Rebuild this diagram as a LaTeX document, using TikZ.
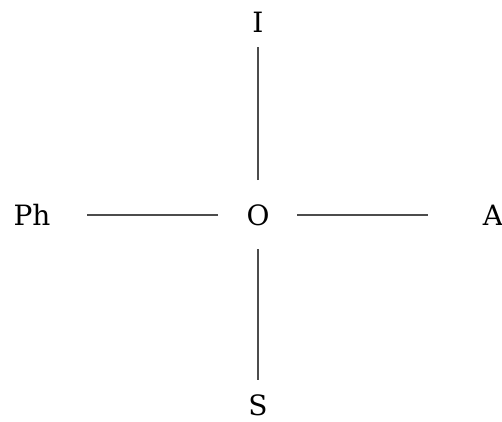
\documentclass[tikz,border=0pt]{standalone}
\usepackage{fontspec}
\setmainfont{DejaVu Serif}
\usetikzlibrary{positioning}

\begin{document}
\begin{tikzpicture}[
  x=1pt, y=1pt, on grid,
  label/.style = {font=\fontsize{28}{32}\selectfont, inner sep=0pt},
  spoke/.style = {draw=black!70, line width=1.1pt},
]
  \useasboundingbox (-258,-206) rectangle (244,215);
  \node[label]                      (O)  {O};
  \node[label, above=193pt of O]    (I)  {I};
  \node[label, below=190pt of O]    (S)  {S};
  \node[label, left=226pt of O]     (Ph) {Ph};
  \node[label, right=235pt of O]    (A)  {A};

  % spokes stop short of the labels
  \draw[spoke, shorten <=35pt, shorten >=25pt] (O.center) -- (I.center);
  \draw[spoke, shorten <=34pt, shorten >=25pt] (O.center) -- (S.center);
  \draw[spoke, shorten <=40pt, shorten >=55pt] (O.center) -- (Ph.center);
  \draw[spoke, shorten <=39pt, shorten >=65pt] (O.center) -- (A.center);
\end{tikzpicture}
\end{document}
